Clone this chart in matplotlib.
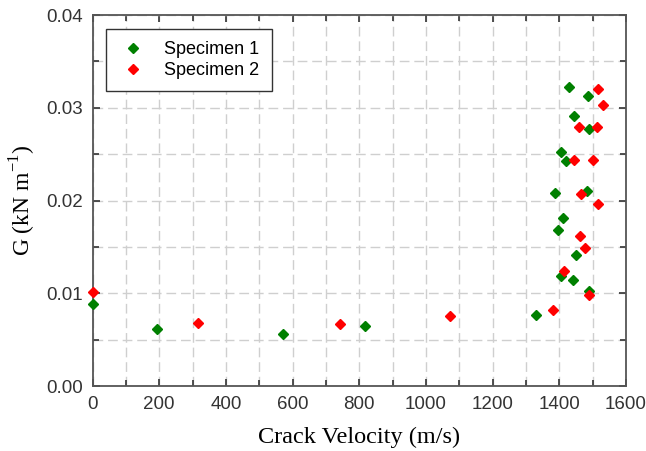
import matplotlib
matplotlib.use("Agg")
import matplotlib.pyplot as plt
from matplotlib.ticker import MultipleLocator

# Specimen 1 (green)
s1_v = [0, 194, 571, 816, 1331, 1388, 1396, 1405, 1406, 1411, 1421, 1430, 1441, 1443, 1451, 1483, 1486, 1488, 1490]
s1_g = [0.0088, 0.0061, 0.0056, 0.0065, 0.0077, 0.0208, 0.0168, 0.0119, 0.0252, 0.0181, 0.0243, 0.0322, 0.0114, 0.0291, 0.0141, 0.0210, 0.0313, 0.0102, 0.0277]

# Specimen 2 (red)
s2_v = [0, 315, 742, 1073, 1381, 1413, 1443, 1458, 1461, 1465, 1476, 1488, 1501, 1513, 1515, 1516, 1530]
s2_g = [0.0101, 0.0068, 0.0067, 0.0076, 0.0082, 0.0124, 0.0244, 0.0279, 0.0162, 0.0207, 0.0149, 0.0098, 0.0244, 0.0279, 0.0320, 0.0196, 0.0303]

labels = ["Specimen 1", "Specimen 2"]

fig = plt.figure(figsize=(6.46, 4.51), dpi=100)
ax = fig.add_axes([0.1433, 0.144, 0.8257, 0.8227])

ax.plot(s1_v, s1_g, linestyle="none", marker="D", markersize=5.5, color="#008000", label=labels[0], clip_on=False, zorder=3)
ax.plot(s2_v, s2_g, linestyle="none", marker="D", markersize=5.5, color="#ff0000", label=labels[1], clip_on=False, zorder=3)

ax.set_xlim(0, 1600)
ax.set_ylim(0, 0.04)
ax.xaxis.set_major_locator(MultipleLocator(200))
ax.xaxis.set_minor_locator(MultipleLocator(100))
ax.yaxis.set_major_locator(MultipleLocator(0.01))
ax.yaxis.set_minor_locator(MultipleLocator(0.005))
ax.yaxis.set_major_formatter(matplotlib.ticker.FormatStrFormatter("%.2f"))

ax.grid(True, which="both", linestyle=(0, (7, 3.5)), color="#cfcfcf", linewidth=1.0, zorder=0)
ax.set_axisbelow(True)

ax.tick_params(which="both", direction="in", top=True, right=True, labelsize=13.5,
               colors="#333333")
ax.tick_params(which="major", length=5, width=1.2)
ax.tick_params(which="minor", length=4, width=1.2)
ax.tick_params(axis="y", pad=7)
ax.tick_params(axis="x", pad=7)
for lab in ax.get_xticklabels() + ax.get_yticklabels():
    lab.set_fontfamily("Liberation Sans")
for sp in ax.spines.values():
    sp.set_color("#555555")
    sp.set_linewidth(1.3)

ax.set_xlabel("Crack Velocity (m/s)", fontfamily="Liberation Serif", fontsize=17.5, labelpad=10)
ax.set_ylabel("G (kN m$^{\\mathregular{-1}}$)", fontfamily="Liberation Serif", fontsize=17, labelpad=6)

leg = ax.legend(loc="upper left", bbox_to_anchor=(0.015, 0.978), fancybox=False, framealpha=1,
                edgecolor="#333333", prop={"family": "Liberation Sans", "size": 13},
                borderpad=0.7, handletextpad=0.9, handlelength=1.6, labelspacing=0.2, borderaxespad=0.3)
leg.get_frame().set_linewidth(1.0)

fig.savefig("out.png", dpi=100)
